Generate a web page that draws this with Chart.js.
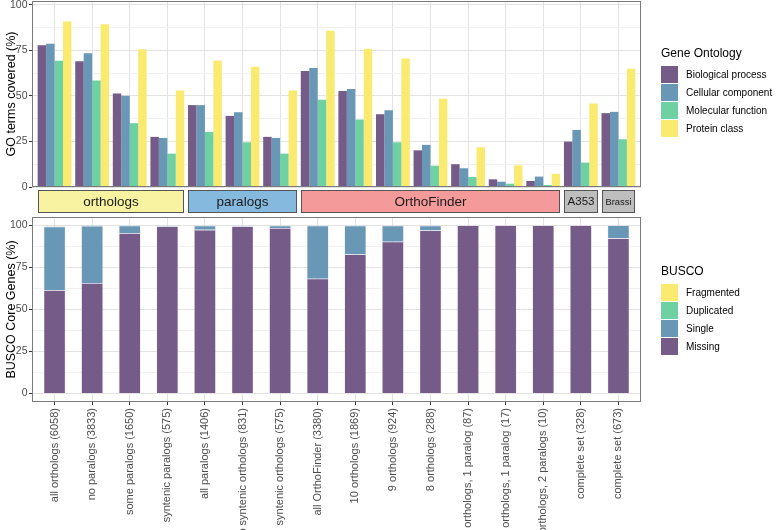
<!DOCTYPE html>
<html>
<head>
<meta charset="utf-8">
<script src="https://cdn.jsdelivr.net/npm/chart.js@4.4.1/dist/chart.umd.min.js"></script>
<style>
  body { margin: 0; background: #fff; font-family: "Liberation Sans", Arial, sans-serif; }
  #wrap { position: relative; width: 777px; height: 530px; overflow: hidden; }
  canvas { position: absolute; left: 0; }
  #goChart { top: 0; }
  #buscoChart { top: 214px; }
  .legend { position: absolute; left: 661px; }
  .legend .title { font-size: 12px; line-height: 14px; color: #000; margin-bottom: 6px; }
  .legend .item { position: relative; height: 18px; }
  .legend .key { position: absolute; left: 0; top: 0; width: 17px; height: 17px; }
  .legend .label { position: absolute; left: 25px; top: 0; line-height: 17px; font-size: 10px; color: #000; white-space: nowrap; }
</style>
</head>
<body>
<div id="wrap">
  <canvas id="goChart" width="777" height="216"></canvas>
  <canvas id="buscoChart" width="777" height="316"></canvas>
  <div class="legend" id="goLegend" style="top:46px"></div>
  <div class="legend" id="buscoLegend" style="top:264px"></div>
</div>
<script>
// categories on the x axis (shared by both panels)
const categories = [
  'all orthologs (6058)', 'no paralogs (3833)', 'some paralogs (1650)', 'syntenic paralogs (575)',
  'all paralogs (1406)', 'no syntenic orthologs (831)', 'syntenic orthologs (575)',
  'all OrthoFinder (3380)', '10 orthologs (1869)', '9 orthologs (924)', '8 orthologs (288)',
  '9 orthologs, 1 paralog (87)', '8 orthologs, 1 paralog (17)', '8 orthologs, 2 paralogs (10)',
  'complete set (328)', 'complete set (673)'
];

// facet strips
const groupNames = ['orthologs', 'paralogs', 'OrthoFinder', 'A353', 'Brassi'];
const groupSizes = [4, 3, 7, 1, 1];
const groupColors = ['#f7f3a0', '#85bade', '#f49a9a', '#bebebe', '#bebebe'];

// GO terms covered (%)
const goNames = ['Biological process', 'Cellular component', 'Molecular function', 'Protein class'];
const bioProcess    = [77.7, 68.9, 51.3, 27.5, 44.9, 39.0, 27.5, 63.6, 52.6, 39.9, 20.1, 12.5, 4.2, 3.3, 24.9, 40.5];
const cellComponent = [78.6, 73.3, 50.0, 26.9, 44.9, 41.0, 26.9, 65.2, 53.7, 42.1, 23.1, 10.3, 2.9, 5.7, 31.3, 41.2];
const molFunction   = [69.2, 58.4, 35.0, 18.3, 30.2, 24.5, 18.3, 47.8, 37.0, 24.5, 11.7, 5.5, 1.8, 1.1, 13.4, 26.2];
const proteinClass  = [90.7, 89.2, 75.5, 52.9, 69.4, 65.9, 52.9, 85.7, 75.8, 70.5, 48.4, 21.8, 11.9, 7.3, 45.8, 64.8];

// BUSCO core genes (%)
const buscoNames = ['Fragmented', 'Duplicated', 'Single', 'Missing'];
const missing    = [61.5, 65.7, 95.4, 99.4, 97.4, 99.4, 98.4, 68.3, 82.7, 90.3, 97.0, 100, 100, 100, 100, 92.3];
const single     = [37.8, 34.0, 4.4, 0.4, 2.4, 0.4, 1.4, 31.5, 17.1, 9.5, 2.8, 0, 0, 0, 0, 7.7];
const duplicated = [0.5, 0.2, 0.2, 0.1, 0.1, 0.1, 0.1, 0.1, 0.1, 0.1, 0.1, 0, 0, 0, 0, 0];
const fragmented = [0.2, 0.1, 0, 0, 0, 0, 0, 0, 0, 0, 0, 0, 0, 0, 0, 0];

const yTickLabels = [0, 25, 50, 75, 100];

const purple = '#755b87', blue = '#6898b6', green = '#6fd0a3', yellow = '#faea70';
const goColors = [purple, blue, green, yellow];
const buscoColors = [yellow, green, blue, purple];

const FONT = '"Liberation Sans", Arial, sans-serif';
Chart.defaults.font.family = FONT;

const toXY = arr => arr.map((v, i) => ({ x: i, y: v }));

// major ticks every 25, minor gridlines halfway in between
const yTicksAll = [];
yTickLabels.forEach((v, i) => {
  yTicksAll.push(v);
  if (i < yTickLabels.length - 1) yTicksAll.push((v + yTickLabels[i + 1]) / 2);
});
const isMajor = v => yTickLabels.includes(v);

function yAxis(title, min, max) {
  return {
    min, max,
    stacked: true,
    afterFit: s => { s.width = 32; s.paddingTop = 0; s.paddingBottom = 0; },
    afterBuildTicks: s => { s.ticks = yTicksAll.map(v => ({ value: v })); },
    ticks: { callback: v => (isMajor(v) ? v : ''), color: '#4d4d4d', font: { size: 10.5 }, padding: 1.5 },
    grid: {
      color: c => (c.tick && isMajor(c.tick.value) ? '#e3e3e3' : '#f1f1f1'),
      tickColor: c => (c.tick && isMajor(c.tick.value) ? '#333' : 'rgba(0,0,0,0)'),
      tickLength: 3
    },
    border: { display: false },
    title: { display: true, text: title, color: '#000', font: { size: 12.5 }, padding: { top: 4, bottom: 0 } }
  };
}

function xAxis(height, showLabels) {
  return {
    type: 'linear',
    offset: false,
    min: -0.6,
    max: categories.length - 0.4,
    afterBuildTicks: s => { s.ticks = categories.map((c, i) => ({ value: i })); },
    afterFit: s => { s.height = height; s.paddingLeft = 0; s.paddingRight = 0; },
    ticks: {
      display: showLabels,
      callback: v => categories[v],
      autoSkip: false, minRotation: 90, maxRotation: 90,
      color: '#4d4d4d', font: { size: 11 }, padding: 3
    },
    grid: { offset: false, color: '#e3e3e3', tickColor: '#333', tickLength: 3, drawTicks: showLabels },
    border: { display: false }
  };
}

const panelBorder = {
  id: 'panelBorder',
  afterDraw(chart) {
    const { ctx, chartArea: a } = chart;
    ctx.save();
    ctx.strokeStyle = '#7a7a7a';
    ctx.lineWidth = 1;
    ctx.strokeRect(Math.round(a.left) + 0.5, Math.round(a.top) + 0.5,
      Math.round(a.right - a.left) - 1, Math.round(a.bottom - a.top) - 1);
    ctx.restore();
  }
};

const facetStrips = {
  id: 'facetStrips',
  afterDraw(chart) {
    const x = chart.scales.x;
    const ctx = chart.ctx;
    const top = Math.round(chart.chartArea.bottom) + 3.5;
    const h = 22;
    let start = 0;
    ctx.save();
    groupNames.forEach((name, g) => {
      const end = start + groupSizes[g] - 1;
      const x0 = Math.round(x.getPixelForValue(start - 0.5) + 2) + 0.5;
      const x1 = Math.round(x.getPixelForValue(end + 0.5) - 2) - 0.5;
      ctx.fillStyle = groupColors[g];
      ctx.fillRect(x0, top, x1 - x0, h);
      ctx.strokeStyle = '#555';
      ctx.lineWidth = 1;
      ctx.strokeRect(x0, top, x1 - x0, h);
      let size = 13.5;
      ctx.font = size + 'px ' + FONT;
      const w = ctx.measureText(name).width;
      if (w > x1 - x0 - 6) {
        size = size * (x1 - x0 - 6) / w;
        ctx.font = size + 'px ' + FONT;
      }
      ctx.fillStyle = '#1a1a1a';
      ctx.textAlign = 'center';
      ctx.textBaseline = 'middle';
      ctx.fillText(name, (x0 + x1) / 2, top + h / 2 + 0.5);
      start = end + 1;
    });
    ctx.restore();
  }
};

const goData = [bioProcess, cellComponent, molFunction, proteinClass];
new Chart(document.getElementById('goChart'), {
  type: 'bar',
  data: {
    datasets: goNames.map((n, i) => ({
      label: n,
      data: toXY(goData[i]),
      backgroundColor: goColors[i],
      borderWidth: 0,
      categoryPercentage: 0.9,
      barPercentage: 1.0
    }))
  },
  options: {
    responsive: false,
    animation: false,
    layout: { padding: { top: 1, right: 136, bottom: 0, left: 0 }, autoPadding: false },
    plugins: { legend: { display: false }, tooltip: { enabled: false } },
    scales: {
      x: xAxis(29, false),
      y: Object.assign(yAxis('GO terms covered (%)', 0, 102), { stacked: false })
    }
  },
  plugins: [panelBorder, facetStrips]
});

// stacking goes bottom-up: Missing, Single, Duplicated, Fragmented
const buscoStack = [
  ['Missing', missing, purple],
  ['Single', single, blue],
  ['Duplicated', duplicated, green],
  ['Fragmented', fragmented, yellow]
];
new Chart(document.getElementById('buscoChart'), {
  type: 'bar',
  data: {
    datasets: buscoStack.map(([n, vals, col]) => ({
      label: n,
      data: toXY(vals),
      backgroundColor: col,
      borderColor: 'rgba(225,215,235,0.9)',
      borderWidth: 0.6,
      categoryPercentage: 0.58,
      barPercentage: 1.0
    }))
  },
  options: {
    responsive: false,
    animation: false,
    layout: { padding: { top: 3, right: 136, bottom: 0, left: 0 }, autoPadding: false },
    plugins: { legend: { display: false }, tooltip: { enabled: false } },
    scales: {
      x: Object.assign(xAxis(128, true), { stacked: true }),
      y: yAxis('BUSCO Core Genes (%)', -5, 105)
    }
  },
  plugins: [panelBorder]
});

function buildLegend(id, title, names, colors) {
  const el = document.getElementById(id);
  const t = document.createElement('div');
  t.className = 'title';
  t.textContent = title;
  el.appendChild(t);
  names.forEach((n, i) => {
    const item = document.createElement('div');
    item.className = 'item';
    item.innerHTML = '<span class="key" style="background:' + colors[i] + '"></span><span class="label"></span>';
    item.querySelector('.label').textContent = n;
    el.appendChild(item);
  });
}
buildLegend('goLegend', 'Gene Ontology', goNames, goColors);
buildLegend('buscoLegend', 'BUSCO', buscoNames, buscoColors);
</script>
</body>
</html>
